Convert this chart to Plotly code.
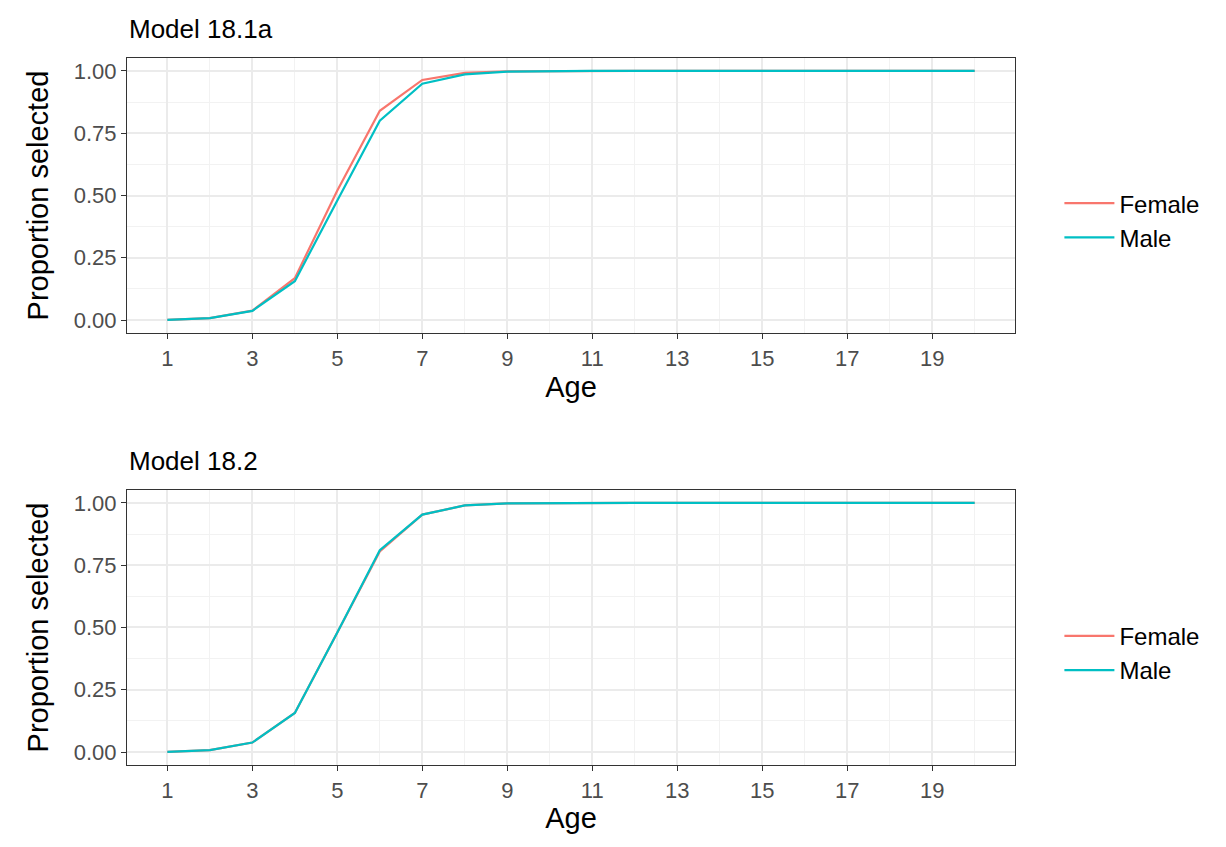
import plotly.graph_objects as go
from plotly.subplots import make_subplots

ages = list(range(1, 21))
top_female = [0.001, 0.008, 0.038, 0.168, 0.52, 0.84, 0.964, 0.992, 0.998, 0.9995] + [1.0]*10
top_male   = [0.001, 0.008, 0.037, 0.156, 0.48, 0.80, 0.949, 0.986, 0.997, 0.9993] + [1.0]*10
bot_female = [0.001, 0.008, 0.038, 0.157, 0.48, 0.805, 0.953, 0.99, 0.998, 0.9995] + [1.0]*10
bot_male   = [0.001, 0.008, 0.038, 0.157, 0.48, 0.81, 0.953, 0.99, 0.998, 0.9995] + [1.0]*10
titles = ["Model 18.1a", "Model 18.2"]
FEM, MAL = "#F8766D", "#00BFC4"

fig = make_subplots(rows=2, cols=1)
for r, (f, m, lg) in enumerate([(top_female, top_male, "legend"), (bot_female, bot_male, "legend2")], start=1):
    fig.add_trace(go.Scatter(x=ages, y=f, mode="lines", name="Female", line=dict(color=FEM, width=2.2), legend=lg), row=r, col=1)
    fig.add_trace(go.Scatter(x=ages, y=m, mode="lines", name="Male", line=dict(color=MAL, width=2.2), legend=lg), row=r, col=1)

font = "Liberation Sans, Arial, sans-serif"
ax = dict(showline=True, mirror=True, linecolor="#333333", linewidth=1.2, ticks="outside", ticklen=5,
          tickcolor="#333333", tickfont=dict(size=22, color="#4d4d4d", family=font), gridcolor="#EBEBEB",
          gridwidth=2, zeroline=False, automargin=False, title_font=dict(size=29, color="black", family=font))
for r in (1, 2):
    fig.update_xaxes(range=[0.05, 20.95], tickvals=list(range(1, 21, 2)), title_text="Age", title_standoff=2,
                     minor=dict(tickvals=list(range(2, 21, 2)), gridcolor="#F2F2F2", gridwidth=1, showgrid=True, ticks=""),
                     row=r, col=1, **ax)
    fig.update_yaxes(range=[-0.052, 1.052], tickvals=[0, 0.25, 0.5, 0.75, 1], ticktext=["0.00", "0.25", "0.50", "0.75", "1.00"],
                     title_text="Proportion selected", title_standoff=16,
                     minor=dict(tickvals=[0.125, 0.375, 0.625, 0.875], gridcolor="#F2F2F2", gridwidth=1, showgrid=True, ticks=""),
                     row=r, col=1, **ax)
fig.update_layout(
    xaxis=dict(domain=[0, 1]), yaxis=dict(domain=[0.611, 1]),
    xaxis2=dict(domain=[0, 1]), yaxis2=dict(domain=[0, 0.389]),
    width=1226, height=847, margin=dict(l=119, r=219, t=50, b=90),
    plot_bgcolor="white", paper_bgcolor="white", font=dict(family=font),
    legend=dict(x=1.05, y=0.77, yanchor="middle", xanchor="left", font=dict(size=24, color="black"),
                itemwidth=50, tracegroupgap=14),
    legend2=dict(x=1.05, y=0.158, yanchor="middle", xanchor="left", font=dict(size=24, color="black"), itemwidth=50),
    annotations=[
        dict(text=titles[0], x=0, y=1, xref="paper", yref="paper", xanchor="left", yanchor="bottom", yshift=12,
             showarrow=False, font=dict(size=26, color="black", family=font)),
        dict(text=titles[1], x=0, y=0.389, xref="paper", yref="paper", xanchor="left", yanchor="bottom", yshift=12,
             showarrow=False, font=dict(size=26, color="black", family=font)),
    ],
)
fig.write_html("out.html")
